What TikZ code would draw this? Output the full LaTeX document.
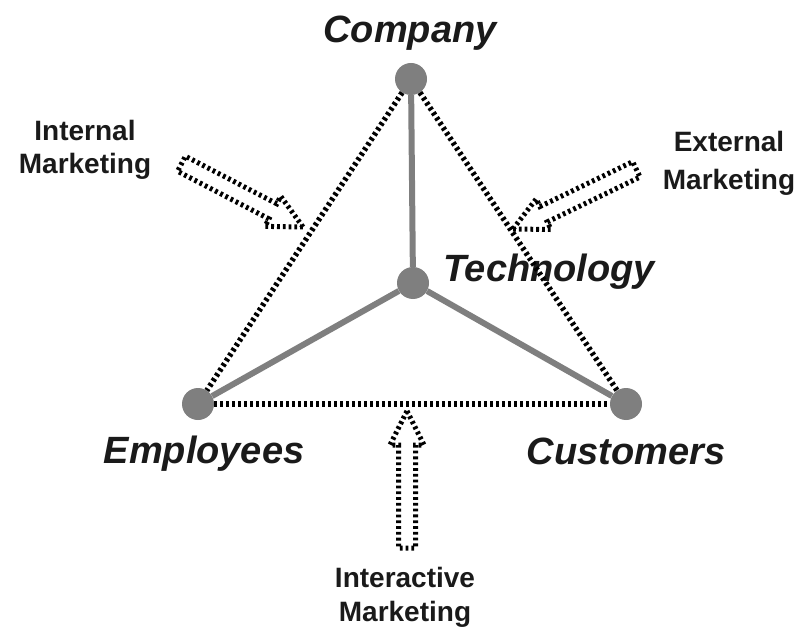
\documentclass[tikz,border=0pt]{standalone}
\usepackage{fontspec}
\setmainfont{Liberation Sans}
\definecolor{dotgray}{HTML}{7F7F7F}
\definecolor{ink}{HTML}{1A1A1A}
\begin{document}
\begin{tikzpicture}[x=1pt,y=-1pt,
  bigtext/.style={font=\fontsize{38}{40}\selectfont\bfseries\itshape, text=ink, inner sep=0pt, anchor=base},
  smalltext/.style={font=\fontsize{28}{34}\selectfont\bfseries, text=ink, inner sep=0pt, anchor=north, align=center},
  dot/.style={circle, fill=dotgray, minimum size=32pt, inner sep=0pt},
  grayline/.style={draw=dotgray, line width=6pt},
  dotline/.style={draw=black, line width=5.5pt, dash pattern=on 3pt off 3pt},
  blockarrow/.style={draw=black, line width=5pt, dash pattern=on 2.8pt off 3pt}
]
\useasboundingbox (0,0) rectangle (797,628);

% labels
\node[bigtext] (lcomp) at (410,43) {Company};
\node[bigtext] (ltech) at (549,281) {Technology};
\node[bigtext] (lemp) at (204,463) {Employees};
\node[bigtext] (lcust) at (626,464) {Customers};
\node[smalltext] (lint) at (85,120.5) {Internal\\[-1pt]Marketing};
\node[smalltext] (lext) at (729,131.5) {External\\[4pt]Marketing};
\node[smalltext] (linter) at (405,567.5) {Interactive\\Marketing};

% vertices
\node[dot] (comp) at (411,79) {};
\node[dot] (tech) at (413,283) {};
\node[dot] (emp) at (198,404) {};
\node[dot] (cust) at (626,404) {};

% solid gray spokes
\draw[grayline] (comp) -- (tech);
\draw[grayline] (tech) -- (emp);
\draw[grayline] (tech) -- (cust);

% dotted triangle
\draw[dotline] (comp) -- (emp);
\draw[dotline] (comp) -- (cust);
\draw[dotline] (emp) -- (cust);

% block arrows
\coordinate (itip) at (303,227);
\coordinate (etip) at (513,229);
\coordinate (xtip) at (407,411);
\draw[blockarrow, shift={(itip)}, rotate=-27.5]
  (0,0) -- (-34,17) -- (-34,8.5) -- (-137,8.5) -- (-137,-8.5) -- (-34,-8.5) -- (-34,-17) -- cycle;
\draw[blockarrow, shift={(etip)}, rotate=205.8]
  (0,0) -- (-34,17) -- (-34,8.5) -- (-137,8.5) -- (-137,-8.5) -- (-34,-8.5) -- (-34,-17) -- cycle;
\draw[blockarrow, shift={(xtip)}, rotate=90]
  (0,0) -- (-34,17) -- (-34,8.5) -- (-137,8.5) -- (-137,-8.5) -- (-34,-8.5) -- (-34,-17) -- cycle;
\end{tikzpicture}
\end{document}
